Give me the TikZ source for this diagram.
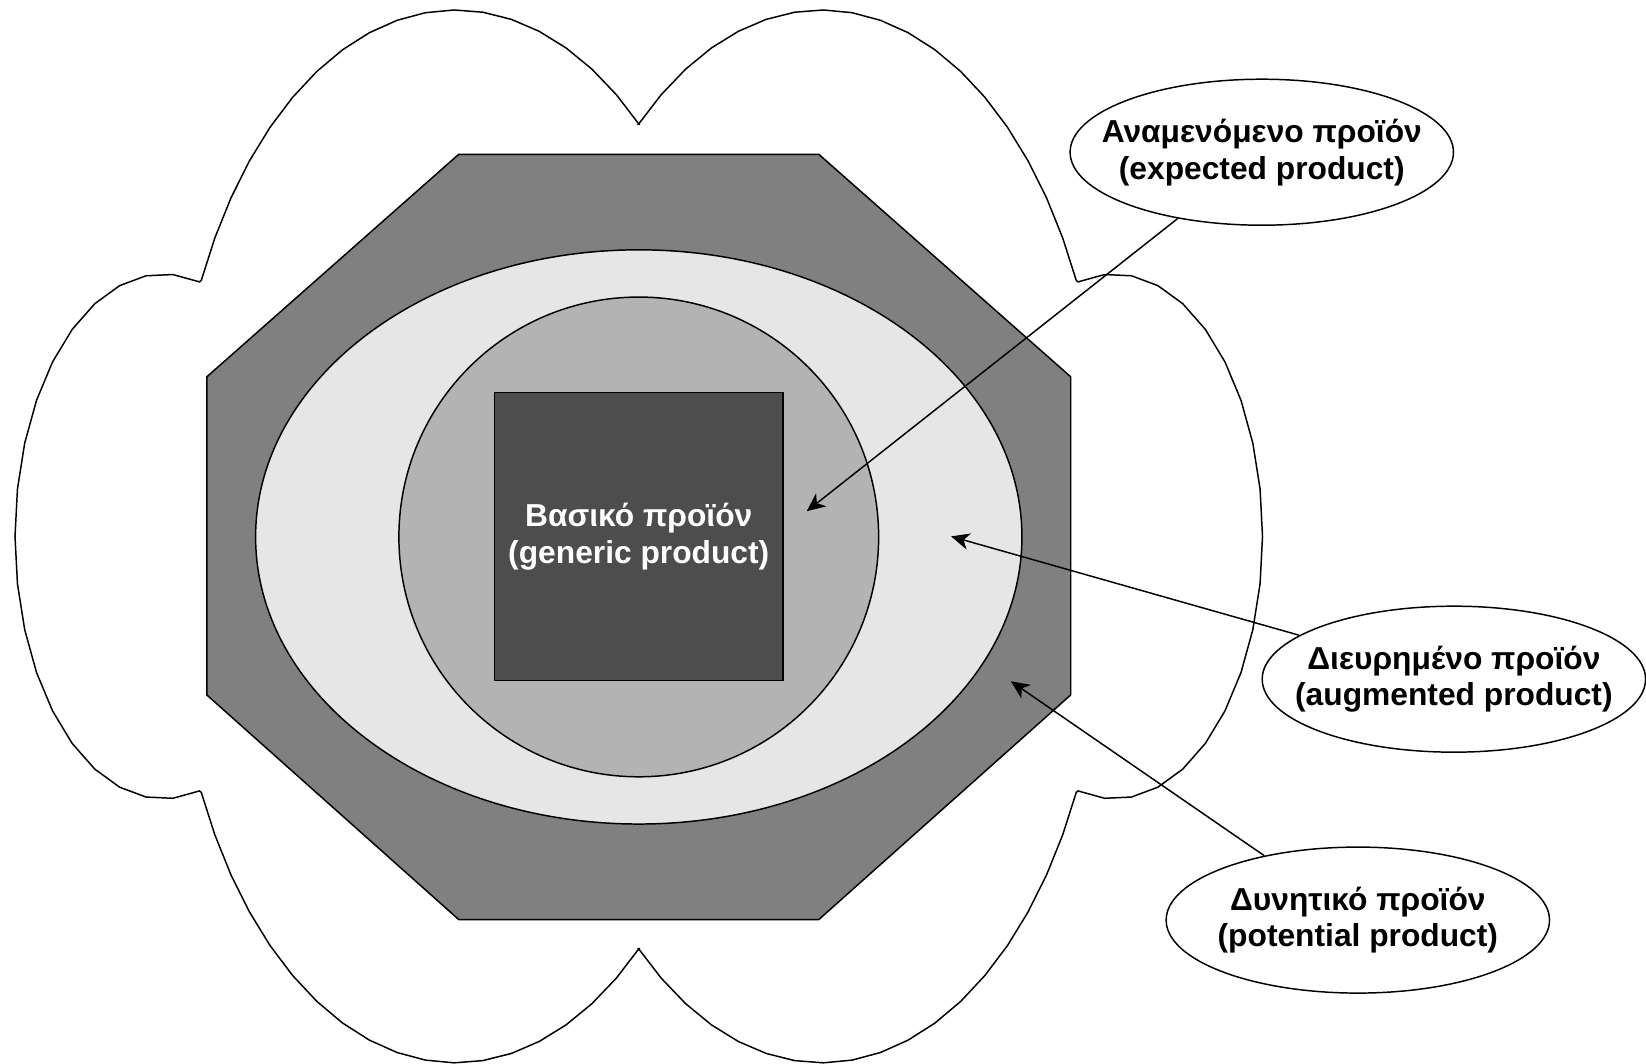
\documentclass[tikz,border=0pt]{standalone}
\usepackage{fontspec}
\setmainfont{Liberation Sans}
\usetikzlibrary{shapes.geometric, arrows.meta}
\definecolor{octgray}{HTML}{808080}
\definecolor{ringgray}{HTML}{E6E6E6}
\definecolor{coregray}{HTML}{B3B3B3}
\definecolor{basegray}{HTML}{4D4D4D}

\begin{document}
\begin{tikzpicture}[x=0.01cm, y=-0.01cm,
    every node/.style={font=\fontsize{8.6}{10}\selectfont\bfseries, align=center},
    lvl/.style={ellipse, draw, fill=white, minimum width=3.65cm, minimum height=1.39cm, inner sep=0pt},
    arr/.style={-{Stealth[length=5pt, width=4.5pt, inset=1.5pt]}}]
  \useasboundingbox (0,0) rectangle (1568,1013);
  % cloud
  \draw[fill=white]
    plot[domain=154.7:49.3, samples=19] ({434+268*cos(\x)}, {459.5-450*sin(\x)})
    -- plot[domain=130.7:25.3, samples=19] ({783+268*cos(\x)}, {459.5-450*sin(\x)})
    -- plot[domain=104.1:-104.1, samples=21] ({1061.4+141.3*cos(\x)}, {511-250*sin(\x)})
    -- plot[domain=25.3:130.7, samples=19] ({783+268*cos(\x)}, {562.5+450*sin(\x)})
    -- plot[domain=49.3:154.7, samples=19] ({434+268*cos(\x)}, {562.5+450*sin(\x)})
    -- plot[domain=284.1:75.9, samples=21] ({155.6+141.3*cos(\x)}, {511-250*sin(\x)})
    -- cycle;
  % levels
  \draw[fill=octgray] (437,147) -- (780,147) -- (1020,359) -- (1020,662)
    -- (780,876) -- (437,876) -- (197,662) -- (197,359) -- cycle;
  \draw[fill=ringgray] (608.5,511.5) circle[x radius=365, y radius=273.5];
  \draw[fill=coregray] (608.5,511.5) circle[radius=228.5];
  \node[draw, fill=basegray, text=white, minimum width=2.75cm, minimum height=2.74cm]
    (gen) at (608.5,511) {Βασικό προϊόν\\(generic product)};
  % labels
  \node[lvl, label={center:{Αναμενόμενο προϊόν\\(expected product)}}] (exp) at (1202,145) {};
  \node[lvl, label={center:{Διευρημένο προϊόν\\(augmented product)}}] (aug) at (1385,647) {};
  \node[lvl, label={center:{Δυνητικό προϊόν\\(potential product)}}] (pot) at (1293.5,876.5) {};
  \coordinate (expt) at (768.5,487);
  \coordinate (augt) at (906,511);
  \coordinate (pott) at (963,649);
  \path[arr]
    (exp) edge (expt)
    (aug) edge (augt)
    (pot) edge (pott);
\end{tikzpicture}
\end{document}
